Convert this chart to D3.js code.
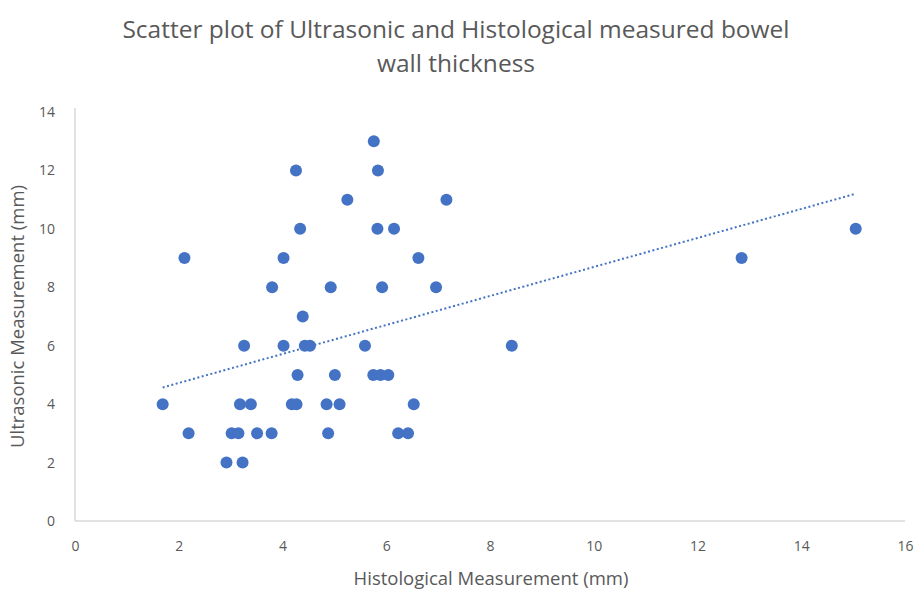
<!DOCTYPE html>
<html><head><meta charset="utf-8">
<script src="https://cdn.jsdelivr.net/npm/d3@7"></script>
<style>body{margin:0;background:#fff}svg{display:block}</style>
</head><body>
<svg id="c" width="915" height="592"></svg>
<script>
const titleLines = ["Scatter plot of Ultrasonic and Histological measured bowel", "wall thickness"];
const xLabel = "Histological Measurement (mm)";
const yLabel = "Ultrasonic Measurement (mm)";
const xTicks = [0,2,4,6,8,10,12,14,16];
const yTicks = [0,2,4,6,8,10,12,14];
// Histological (x) and Ultrasonic (y) values
const histological = [
  5.76,
  4.26, 5.84,
  5.25, 7.16,
  4.34, 5.83, 6.15, 15.05,
  2.11, 4.02, 6.62, 12.85,
  3.80, 4.93, 5.92, 6.96,
  4.39,
  3.26, 4.02, 4.43, 4.53, 5.59, 8.42,
  4.29, 5.01, 5.75, 5.89, 6.04,
  1.69, 3.18, 3.39, 4.18, 4.27, 4.85, 5.10, 6.53,
  2.19, 3.02, 3.15, 3.51, 3.79, 4.88, 6.23, 6.42,
  2.92, 3.23
];
const ultrasonic = [
  13,
  12, 12,
  11, 11,
  10, 10, 10, 10,
  9, 9, 9, 9,
  8, 8, 8, 8,
  7,
  6, 6, 6, 6, 6, 6,
  5, 5, 5, 5, 5,
  4, 4, 4, 4, 4, 4, 4, 4,
  3, 3, 3, 3, 3, 3, 3, 3,
  2, 2
];

const svg = d3.select("#c");
const L = 75, R = 905, T = 112, B = 521;
const x = d3.scaleLinear().domain([0,16]).range([L,R]);
const y = d3.scaleLinear().domain([0,14]).range([B,T]);
const font = "'Open Sans', sans-serif";
const grey = "#595959";

// title
svg.append("text").attr("font-family", font).attr("font-size", 24.5)
  .attr("fill", grey).attr("text-anchor","middle")
  .selectAll("tspan").data(titleLines).join("tspan")
  .attr("x", 456).attr("y",(d,i)=>38+i*33.6).text(d=>d);

// axes lines
svg.append("line").attr("x1",L).attr("x2",L).attr("y1",T-4).attr("y2",B).attr("stroke","#d9d9d9").attr("stroke-width",1.5);
svg.append("line").attr("x1",L).attr("x2",R).attr("y1",B).attr("y2",B).attr("stroke","#d9d9d9").attr("stroke-width",1.5);

const xAxis = svg.append("g").attr("transform",`translate(0,${B})`)
  .call(d3.axisBottom(x).tickValues(xTicks).tickSize(0).tickPadding(20));
const yAxis = svg.append("g").attr("transform",`translate(${L},0)`)
  .call(d3.axisLeft(y).tickValues(yTicks).tickSize(0).tickPadding(20));
[xAxis,yAxis].forEach(a=>{
  a.select(".domain").remove();
  a.selectAll("text").attr("font-family",font).attr("font-size",14).attr("fill",grey);
});

svg.append("text").attr("x",491).attr("y",585).attr("text-anchor","middle")
  .attr("font-family",font).attr("font-size",18.5).attr("fill",grey).text(xLabel);
svg.append("text").attr("transform",`translate(24,${(T+B)/2}) rotate(-90)`).attr("text-anchor","middle")
  .attr("font-family",font).attr("font-size",18.5).attr("fill",grey).text(yLabel);

// linear trendline (least squares)
const n = histological.length;
const mx = d3.mean(histological), my = d3.mean(ultrasonic);
let sxy=0, sxx=0;
for(let i=0;i<n;i++){sxy+=(histological[i]-mx)*(ultrasonic[i]-my);sxx+=(histological[i]-mx)**2;}
const slope = sxy/sxx, icpt = my - slope*mx;
const [xmin,xmax] = d3.extent(histological);
svg.append("line").attr("x1",x(xmin)).attr("y1",y(icpt+slope*xmin))
  .attr("x2",x(xmax)).attr("y2",y(icpt+slope*xmax))
  .attr("stroke","#4472c4").attr("stroke-width",2).attr("stroke-dasharray","2,2.5");

// points
svg.append("g").selectAll("circle").data(histological).join("circle")
  .attr("cx",d=>x(d)).attr("cy",(d,i)=>y(ultrasonic[i])).attr("r",6)
  .attr("fill","#4472c4");
</script>
</body></html>
